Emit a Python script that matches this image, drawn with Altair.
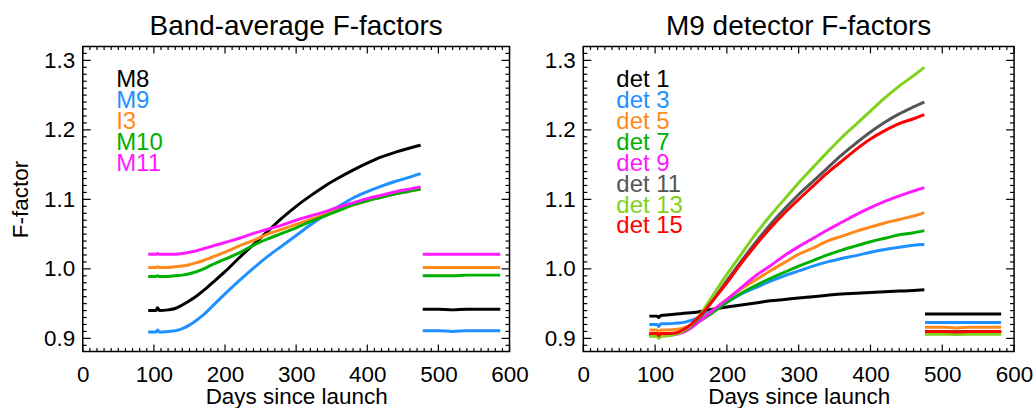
import altair as alt
import pandas as pd

FONT = "Liberation Sans"

# ---------------- data ----------------
days_a = [92, 103, 105, 108, 120, 130, 140, 150, 160, 170, 180, 200, 220, 240,
          260, 280, 300, 320, 340, 360, 380, 400, 420, 440, 460, 475]
days_b_left = [478, 500, 520, 540, 560, 587]
days_b_right = [476, 500, 520, 540, 560, 582]

band_names = ["M8", "M9", "I3", "M10", "M11"]
band_colors = ["#000000", "#1e90ff", "#ff8a1c", "#00b000", "#ff1aff"]

m8_a = [0.940, 0.940, 0.944, 0.940, 0.941, 0.943, 0.948, 0.954, 0.961, 0.969, 0.978, 0.996, 1.016, 1.035,
        1.054, 1.073, 1.090, 1.105, 1.119, 1.131, 1.142, 1.152, 1.161, 1.168, 1.174, 1.178]
m9_a = [0.909, 0.909, 0.912, 0.909, 0.910, 0.911, 0.914, 0.919, 0.926, 0.934, 0.944, 0.964, 0.983, 1.001,
        1.018, 1.033, 1.048, 1.063, 1.077, 1.090, 1.102, 1.111, 1.119, 1.126, 1.132, 1.137]
i3_a = [1.002, 1.002, 1.003, 1.002, 1.002, 1.003, 1.004, 1.006, 1.009, 1.012, 1.016, 1.024, 1.033, 1.041,
        1.050, 1.057, 1.064, 1.071, 1.078, 1.086, 1.092, 1.098, 1.103, 1.108, 1.112, 1.115]
m10_a = [0.989, 0.989, 0.990, 0.989, 0.989, 0.990, 0.991, 0.993, 0.996, 1.000, 1.005, 1.014, 1.023, 1.034,
         1.043, 1.051, 1.059, 1.068, 1.076, 1.084, 1.092, 1.098, 1.103, 1.108, 1.112, 1.115]
m11_a = [1.021, 1.021, 1.022, 1.021, 1.021, 1.021, 1.022, 1.024, 1.026, 1.029, 1.032, 1.038, 1.044, 1.051,
         1.057, 1.063, 1.070, 1.076, 1.082, 1.089, 1.095, 1.101, 1.106, 1.111, 1.115, 1.118]

m8_b = [0.942, 0.942, 0.941, 0.942, 0.942, 0.942]
m9_b = [0.911, 0.911, 0.910, 0.911, 0.911, 0.911]
i3_b = [1.002, 1.002, 1.002, 1.002, 1.002, 1.002]
m10_b = [0.990, 0.990, 0.990, 0.991, 0.991, 0.991]
m11_b = [1.021, 1.021, 1.021, 1.021, 1.021, 1.021]

det_names = ["det 1", "det 3", "det 5", "det 7", "det 9", "det 11", "det 13", "det 15"]
det_colors = ["#000000", "#1e90ff", "#ff8a1c", "#00b000", "#ff1aff", "#555555", "#7fd11b", "#ff0000"]

d1_a = [0.932, 0.932, 0.930, 0.933, 0.934, 0.935, 0.936, 0.937, 0.938, 0.940, 0.942, 0.945, 0.948, 0.951,
        0.954, 0.956, 0.958, 0.960, 0.962, 0.964, 0.965, 0.966, 0.967, 0.968, 0.969, 0.970]
d3_a = [0.920, 0.920, 0.917, 0.921, 0.921, 0.922, 0.923, 0.926, 0.930, 0.935, 0.940, 0.952, 0.964, 0.973,
        0.982, 0.990, 0.997, 1.004, 1.010, 1.015, 1.019, 1.024, 1.028, 1.031, 1.034, 1.035]
d5_a = [0.912, 0.912, 0.909, 0.912, 0.912, 0.913, 0.915, 0.919, 0.925, 0.932, 0.940, 0.956, 0.971, 0.984,
        0.997, 1.009, 1.021, 1.030, 1.040, 1.047, 1.054, 1.060, 1.066, 1.071, 1.076, 1.081]
d7_a = [0.904, 0.904, 0.901, 0.904, 0.905, 0.907, 0.911, 0.916, 0.923, 0.930, 0.937, 0.952, 0.965, 0.976,
        0.986, 0.995, 1.004, 1.012, 1.020, 1.027, 1.033, 1.039, 1.044, 1.049, 1.052, 1.055]
d9_a = [0.905, 0.905, 0.902, 0.905, 0.905, 0.906, 0.909, 0.915, 0.923, 0.931, 0.940, 0.956, 0.973, 0.990,
        1.004, 1.019, 1.032, 1.044, 1.056, 1.067, 1.078, 1.088, 1.097, 1.105, 1.112, 1.117]
d11_a = [0.906, 0.906, 0.903, 0.906, 0.906, 0.907, 0.911, 0.918, 0.928, 0.940, 0.954, 0.983, 1.011, 1.038,
         1.063, 1.086, 1.107, 1.126, 1.145, 1.164, 1.181, 1.197, 1.211, 1.223, 1.233, 1.240]
d13_a = [0.903, 0.903, 0.900, 0.903, 0.904, 0.906, 0.911, 0.919, 0.930, 0.945, 0.961, 0.992, 1.021, 1.050,
         1.076, 1.100, 1.124, 1.146, 1.168, 1.189, 1.208, 1.227, 1.246, 1.263, 1.278, 1.290]
d15_a = [0.907, 0.907, 0.904, 0.907, 0.907, 0.908, 0.913, 0.920, 0.930, 0.941, 0.954, 0.980, 1.008, 1.034,
         1.058, 1.080, 1.100, 1.119, 1.138, 1.155, 1.172, 1.187, 1.199, 1.209, 1.216, 1.222]

d1_b = [0.935, 0.935, 0.935, 0.935, 0.935, 0.935]
d3_b = [0.923, 0.923, 0.923, 0.923, 0.923, 0.923]
d5_b = [0.916, 0.916, 0.915, 0.916, 0.916, 0.916]
d7_b = [0.907, 0.907, 0.906, 0.907, 0.907, 0.907]
d9_b = [0.909, 0.909, 0.909, 0.909, 0.909, 0.909]
d11_b = [0.910, 0.910, 0.910, 0.910, 0.910, 0.910]
d13_b = [0.906, 0.906, 0.906, 0.906, 0.906, 0.906]
d15_b = [0.910, 0.910, 0.909, 0.910, 0.910, 0.910]

x_major = [0, 100, 200, 300, 400, 500, 600]
x_minor = [d for d in range(10, 600, 10) if d % 100 != 0]
y_major = [0.9, 1.0, 1.1, 1.2, 1.3]
y_minor = [round(0.89 + 0.01 * i, 2) for i in range(43)]
y_minor = [v for v in y_minor if round(v * 10, 6) != round(v * 10)]

H = 306


def build_panel(title, names, colors, days_a, vals_a, days_b, vals_b, width, ytitle, leg_x):
    rows = []
    for n, va, vb in zip(names, vals_a, vals_b):
        for d, v in zip(days_a, va):
            rows.append({"series": n, "seg": "a", "day": d, "value": v})
        for d, v in zip(days_b, vb):
            rows.append({"series": n, "seg": "b", "day": d, "value": v})
    df = pd.DataFrame(rows)

    xs = alt.Scale(domain=[0, 600], nice=False, zero=False)
    ys = alt.Scale(domain=[0.881, 1.320], nice=False, zero=False)
    xaxis = alt.Axis(values=x_major, format="d", ticks=False, domain=False, grid=False,
                     labelFontSize=22.5, labelFont=FONT, labelColor="black", labelPadding=12,
                     labelFlush=False, labelOverlap=False,
                     titleFont=FONT, titleFontSize=22.5, titleFontWeight="normal",
                     titleColor="black", titlePadding=0)
    yaxis = alt.Axis(values=y_major, format=".1f", ticks=False, domain=False, grid=False,
                     labelFontSize=22.5, labelFont=FONT, labelColor="black", labelPadding=8,
                     labelFlush=False, labelOverlap=False,
                     titleFont=FONT, titleFontSize=22.5, titleFontWeight="normal",
                     titleColor="black", titlePadding=11)

    def X(f):
        return alt.X(f, type="quantitative", scale=xs, axis=xaxis, title="Days since launch")

    def Y(f):
        return alt.Y(f, type="quantitative", scale=ys, axis=yaxis, title=ytitle)

    layers = []
    for n, c in zip(names, colors):
        layers.append(
            alt.Chart(df).transform_filter(alt.datum.series == n)
            .mark_line(strokeWidth=3, color=c, interpolate="monotone")
            .encode(x=X("day"), y=Y("value"), detail="seg:N", order="day:Q")
        )

    xmaj = pd.DataFrame({"v": x_major})
    xmin = pd.DataFrame({"v": x_minor})
    ymaj = pd.DataFrame({"v": y_major})
    ymin = pd.DataFrame({"v": y_minor})
    tick = dict(color="black", strokeWidth=1.2)
    for d, L in ((xmaj, 7), (xmin, 3.5)):
        layers.append(alt.Chart(d).mark_rule(**tick).encode(
            x=X("v"), y=alt.value(H), y2=alt.value(H - L)))
        layers.append(alt.Chart(d).mark_rule(**tick).encode(
            x=X("v"), y=alt.value(0), y2=alt.value(L)))
    for d, L in ((ymaj, 8), (ymin, 4)):
        layers.append(alt.Chart(d).mark_rule(**tick).encode(
            y=Y("v"), x=alt.value(0), x2=alt.value(L)))
        layers.append(alt.Chart(d).mark_rule(**tick).encode(
            y=Y("v"), x=alt.value(width), x2=alt.value(width - L)))

    leg = pd.DataFrame({"label": names,
                        "day": [leg_x] * len(names),
                        "value": [1.271 - 0.030 * i for i in range(len(names))]})
    layers.append(
        alt.Chart(leg).mark_text(align="left", baseline="middle", fontSize=24, font=FONT)
        .encode(x=X("day"), y=Y("value"), text="label:N",
                color=alt.Color("label:N", scale=alt.Scale(domain=names, range=colors), legend=None))
    )

    return alt.layer(*layers).properties(
        width=width, height=H,
        title=alt.TitleParams(title, font=FONT, fontSize=28, fontWeight="normal",
                              color="black", anchor="middle", offset=5),
    )


left = build_panel("Band-average F-factors", band_names, band_colors, days_a,
                   [m8_a, m9_a, i3_a, m10_a, m11_a], days_b_left,
                   [m8_b, m9_b, i3_b, m10_b, m11_b], 428, "F-factor", 47)
right = build_panel("M9 detector F-factors", det_names, det_colors, days_a,
                    [d1_a, d3_a, d5_a, d7_a, d9_a, d11_a, d13_a, d15_a], days_b_right,
                    [d1_b, d3_b, d5_b, d7_b, d9_b, d11_b, d13_b, d15_b], 432, None, 46)

chart = (
    alt.hconcat(left, right, spacing=74, bounds="flush")
    .resolve_scale(color="independent")
    .properties(padding={"left": 8, "top": 11, "right": 2, "bottom": 0}, background="white")
    .configure_view(stroke="black", strokeWidth=1.5)
)

chart.save("out.html", embed_options={"renderer": "svg", "actions": False})
